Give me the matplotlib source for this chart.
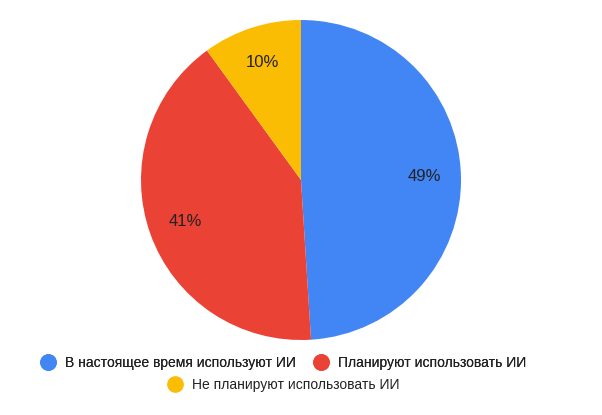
import matplotlib.pyplot as plt
from matplotlib.lines import Line2D

labels = ['В настоящее время используют ИИ', 'Планируют использовать ИИ', 'Не планируют использовать ИИ']
shares = [49, 41, 10]
colors = ['#4285F4', '#EA4335', '#FBBC04']

plt.rcParams['font.family'] = ['Liberation Sans', 'DejaVu Sans']

fig = plt.figure(figsize=(6.02, 4.15), dpi=100)
ax = fig.add_axes([0, 0, 1, 1])

wedges, texts, autotexts = ax.pie(
    shares, colors=colors, startangle=90, counterclock=False,
    center=(301, 235), radius=160, frame=True,
    autopct=lambda p: f'{p:.0f}%', pctdistance=0.77,
    textprops={'fontsize': 12, 'color': '#222222'},
)
ax.set_xlim(0, 602)
ax.set_ylim(0, 415)
ax.set_aspect('equal')
ax.axis('off')

handles = [Line2D([], [], marker='o', linestyle='none', markersize=11,
                  markerfacecolor=c, markeredgecolor=c) for c in colors]

legend_x = 283 / 602
leg1 = fig.legend(handles[:2], labels[:2], ncol=2, loc='center',
                  bbox_to_anchor=(legend_x, 1 - 363 / 415), frameon=False,
                  fontsize=10, handletextpad=0.6, columnspacing=1.2,
                  handlelength=1.2, labelcolor='#222222')
fig.add_artist(leg1)
fig.legend(handles[2:], labels[2:], loc='center',
           bbox_to_anchor=(legend_x, 1 - 385 / 415), frameon=False,
           fontsize=10, handletextpad=0.6, handlelength=1.2,
           labelcolor='#222222')

fig.savefig('out.png', dpi=100)
